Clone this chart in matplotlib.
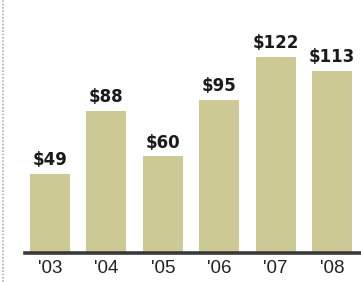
import matplotlib

matplotlib.use("Agg")
import matplotlib.pyplot as plt

years = ["'03", "'04", "'05", "'06", "'07", "'08"]
values = [49, 88, 60, 95, 122, 113]
labels = ["$49", "$88", "$60", "$95", "$122", "$113"]

W, H = 361, 282
fig = plt.figure(figsize=(W / 100, H / 100), dpi=100)
base_px = 253
ax = fig.add_axes([0, (H - base_px) / H, 1, base_px / H])

x = list(range(len(years)))
ax.bar(x, values, width=0.71, color="#cdc995", zorder=2)

px_per_unit = 1.61
ax.set_ylim(0, base_px / px_per_unit)
step = 56.4
ax.set_xlim(-50 / step, (W - 50) / step)

for xi, v, lab in zip(x, values, labels):
    ax.text(xi, v + 3, lab, ha="center", va="bottom", fontsize=12,
            fontweight="bold", family=["DejaVu Sans"], color="#1a1a1a")

ax.axhline(0, xmin=25 / W, xmax=1, color="#3a3a3a", lw=2.6, zorder=3, clip_on=False)

for xi, yr in zip(x, years):
    ax.text(xi, -4.5, yr, ha="center", va="top", fontsize=13.5,
            family=["Liberation Sans", "DejaVu Sans"], color="#222222")

# dotted rule at the left edge
fig.add_artist(plt.Line2D([3 / W, 3 / W], [0, 1], color="#b0b0b0", lw=1.2,
                          linestyle=(0, (1, 1))))

ax.axis("off")
fig.savefig("out.png", dpi=100)
